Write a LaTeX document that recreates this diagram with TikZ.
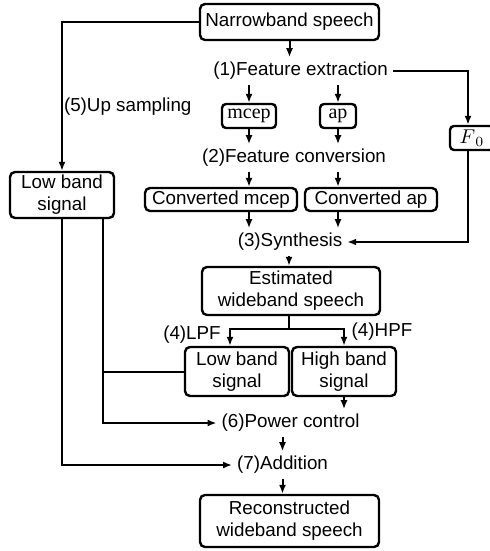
\documentclass[tikz,border=0pt]{standalone}
\usepackage{fontspec}
\setmainfont{Liberation Sans}
\newfontfamily\featfont{Liberation Serif}
\usetikzlibrary{positioning,arrows.meta,calc}

\begin{document}
\begin{tikzpicture}[x=0.5pt, y=-0.5pt, >={Latex[length=4.5pt,width=3.5pt]},
  font=\fontsize{9.4}{11}\selectfont, line width=1pt,
  blk/.style={draw, line width=1.2pt, rounded corners=2.5pt, inner sep=0pt, align=center},
  feat/.style={draw, line width=1.2pt, rounded corners=2pt, inner sep=0pt, minimum height=12pt, font=\featfont\fontsize{10}{12}\selectfont},
  stage/.style={inner sep=2pt},
  lbl/.style={inner sep=0pt}]
\useasboundingbox (0,0) rectangle (489,551);
% ================= analysis part =================
\node[blk, minimum width=89.5pt, minimum height=18pt] (nb) at (289.5,22) {Narrowband speech};
\node[stage] (fe) at (300.5,71) {(1)Feature extraction};
\node[feat, minimum width=27pt] (mcep) at (249,116) {mcep};
\node[feat, minimum width=18pt] (ap) at (338,116) {ap};
\node[feat, minimum width=22pt] (f0) at (472,138) {$F_{\,0}$\hspace{3pt}};
\node[lbl, anchor=west] (up) at (63,107) {(5)Up sampling};
\node[stage] (fc) at (294,158) {(2)Feature conversion};
\node[blk, minimum width=76pt, minimum height=11.5pt] (cm) at (221,199.5) {Converted mcep};
\node[blk, minimum width=66pt, minimum height=11.5pt] (ca) at (371,199.5) {Converted ap};
\node[blk, minimum width=52pt, minimum height=23pt] (lb) at (62,195) {Low band\\signal};
\node[stage] (sy) at (290,242) {(3)Synthesis};
\draw[->] (nb) -- (nb |- fe.north);
\draw[->] (mcep |- fe.south) -- (mcep);
\draw[->] (ap |- fe.south) -- (ap);
\draw[->] (fe.east) -| ([xshift=-2pt]f0.north);
\draw[->] (nb.west) -| (lb.north);
\draw[->] (mcep) -- (mcep |- fc.north);
\draw[->] (ap) -- (ap |- fc.north);
\draw[->] (mcep |- fc.south) -- (mcep |- cm.north);
\draw[->] (ap |- fc.south) -- (ap |- ca.north);
\draw[->] (mcep |- cm.south) -- (mcep |- sy.north);
\draw[->] (ap |- ca.south) -- (ap |- sy.north);
\draw[->] ([xshift=-2pt]f0.south) |- (sy.east);
% ================= band split and reconstruction =================
\node[blk, minimum width=89pt, minimum height=24pt] (ew) at (291,291) {Estimated\\wideband speech};
\coordinate (sp) at (289,329);
\node[blk, minimum width=52pt, minimum height=24.5pt] (lb2) at (237,371.5) {Low band\\signal};
\node[blk, minimum width=52pt, minimum height=24.5pt] (hb) at (344,371.5) {High band\\signal};
\node[lbl] (lpf) at (192,335) {(4)LPF};
\node[lbl] (hpf) at (382,332) {(4)HPF};
\node[stage] (pc) at (290.5,423) {(6)Power control};
\node[stage] (ad) at (282.5,465) {(7)Addition};
\node[blk, minimum width=89.5pt, minimum height=26pt] (rw) at (289.5,521) {Reconstructed\\wideband speech};
\coordinate (lbr) at ([xshift=20.5pt]lb.south);
\draw[->] (sy.south -| sp) -- (sp |- ew.north);
\draw (ew.south -| sp) -- (sp);
\draw[->] (sp) -| ([xshift=-3.5pt]lb2.north);
\draw[->] (sp) -| (hb.north);
\draw (lb2.west) -- (lb2.west -| lbr);
\draw[->] (lbr) |- (pc.west);
\draw[->] (hb) -- (hb |- pc.north);
\draw[->] (ad.north |- pc.south) -- (ad.north);
\draw[->] (lb) |- (ad.west);
\draw[->] (ad) -- (ad |- rw.north);
\end{tikzpicture}
\end{document}
